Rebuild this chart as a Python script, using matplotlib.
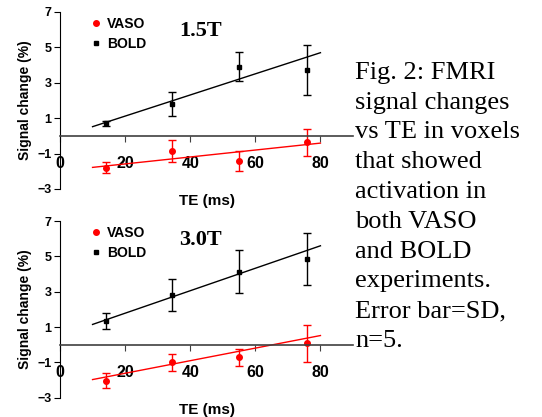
import numpy as np
import matplotlib
matplotlib.use("Agg")
import matplotlib.pyplot as plt
from matplotlib.lines import Line2D

# echo times (ms)
te = [14, 34.5, 55, 76]

# 1.5T
bold_15 = [0.7, 1.8, 3.9, 3.72]
bold_15_sd = [0.12, 0.7, 0.82, 1.43]
vaso_15 = [-1.8, -0.85, -1.42, -0.37]
vaso_15_sd = [0.3, 0.63, 0.57, 0.75]
fit_bold_15 = (0.0597, -0.077)   # slope, intercept
fit_vaso_15 = (0.0196, -1.976)

# 3.0T
bold_30 = [1.32, 2.8, 4.14, 4.84]
bold_30_sd = [0.45, 0.9, 1.24, 1.47]
vaso_30 = [-2.03, -1.0, -0.72, 0.07]
vaso_30_sd = [0.42, 0.47, 0.5, 1.03]
fit_bold_30 = (0.0636, 0.51)
fit_vaso_30 = (0.0356, -2.33)

fit_range = [10, 80]
yticks = [-3, -1, 1, 3, 5, 7]
xticks = [0, 20, 40, 60, 80]

caption = ("Fig. 2: FMRI\nsignal changes\nvs TE in voxels\nthat showed\n"
           "activation in\nboth VASO\nand BOLD\nexperiments.\nError bar=SD,\nn=5.")

plt.rcParams['font.family'] = ['Liberation Sans', 'DejaVu Sans']

fig = plt.figure(figsize=(5.42, 4.17), dpi=100)


def panel(rect, bold, bold_sd, vaso, vaso_sd, fb, fv, title):
    ax = fig.add_axes(rect)
    xf = np.array(fit_range)
    ax.plot(xf, fb[0] * xf + fb[1], color='black', lw=1.0)
    ax.plot(xf, fv[0] * xf + fv[1], color='red', lw=1.0)
    ax.errorbar(te, vaso, yerr=vaso_sd, fmt='o', color='red', ms=4,
                capsize=3, elinewidth=1.0, capthick=1.0)
    ax.errorbar(te, bold, yerr=bold_sd, fmt='s', color='black', ms=3,
                capsize=3, elinewidth=1.0, capthick=1.0)
    ax.set_xlim(0, 90)
    ax.set_ylim(-3, 7)
    ax.spines['top'].set_visible(False)
    ax.spines['right'].set_visible(False)
    ax.spines['left'].set_bounds(-3, 7)
    ax.spines['bottom'].set_position(('data', 0))
    ax.spines['bottom'].set_color('#404040')
    ax.spines['bottom'].set_linewidth(1.2)
    ax.set_yticks(yticks)
    ax.set_xticks(xticks)
    ax.tick_params(axis='y', length=4, labelsize=9, pad=2)
    ax.tick_params(axis='x', length=4, labelsize=11.5, pad=10.5, color='#404040')
    for lbl in ax.get_xticklabels() + ax.get_yticklabels():
        lbl.set_fontweight('bold')
    ax.set_ylabel('Signal change (%)', fontsize=10, fontweight='bold', labelpad=4)
    ax.set_xlabel('TE (ms)', fontsize=11, fontweight='bold')
    ax.xaxis.set_label_coords(0.5, -0.03)
    handles = [Line2D([], [], ls='none', marker='o', ms=4, color='red'),
               Line2D([], [], ls='none', marker='s', ms=3, color='black')]
    ax.legend(handles, ['VASO', 'BOLD'], loc='upper left',
              bbox_to_anchor=(0.06, 1.045), frameon=False,
              handlelength=0.8, handletextpad=0.4, labelspacing=0.45,
              prop={'size': 10, 'weight': 'bold'})
    ax.text(0.48, 0.89, title, transform=ax.transAxes, fontsize=16,
            fontweight='bold', family='Liberation Serif', va='center', ha='center')
    return ax


panel([0.1107, 0.5468, 0.5406, 0.4245], bold_15, bold_15_sd, vaso_15, vaso_15_sd,
      fit_bold_15, fit_vaso_15, '1.5T')
panel([0.1107, 0.0463, 0.5406, 0.4237], bold_30, bold_30_sd, vaso_30, vaso_30_sd,
      fit_bold_30, fit_vaso_30, '3.0T')

fig.text(0.655, 0.852, caption, family='Liberation Serif', fontsize=19,
         va='top', ha='left', linespacing=1.46)

fig.savefig('out.png', dpi=100)
